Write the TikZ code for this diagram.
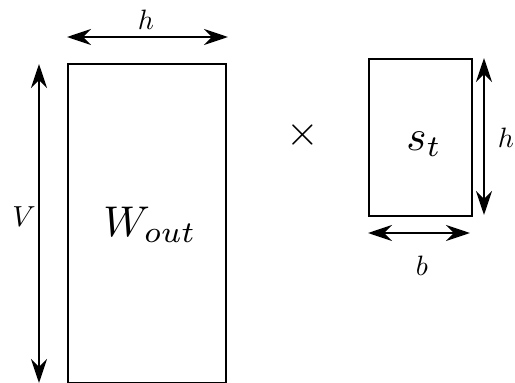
\documentclass[tikz,border=0pt]{standalone}
\usepackage{graphicx}
\usetikzlibrary{arrows.meta}
\begin{document}
\begin{tikzpicture}[x=1pt,y=-1pt,
  matbox/.style={draw=black,line width=1.8pt,inner sep=0pt,anchor=north west},
  dimarrow/.style={line width=2.6pt,{Stealth[length=24pt,width=16pt,inset=8pt]}-{Stealth[length=24pt,width=16pt,inset=8pt]}},
  lbl/.style={inner sep=0pt}]
\useasboundingbox (0,0) rectangle (515,383);
% matrices
\node[matbox,minimum width=158pt,minimum height=319pt] (W) at (67,63) {};
\node[matbox,minimum width=103pt,minimum height=157pt] (S) at (368,58) {};
\node[lbl] (Wl) at (150,225) {\scalebox{4.3}{$W_{out}$}};
\node[lbl] (Sl) at (424,144) {\scalebox{4.3}{$s_t$}};
\node[lbl] (X) at (303,135) {\scalebox{4.2}{$\times$}};
% dimension coordinates
\coordinate (ht1) at (67,37);
\coordinate (ht2) at (228,37);
\coordinate (v1) at (39,64);
\coordinate (v2) at (39,383);
\coordinate (hr1) at (484,58);
\coordinate (hr2) at (484,215);
\coordinate (b1) at (368,233);
\coordinate (b2) at (470,233);
\draw[dimarrow] (ht1) -- (ht2);
\draw[dimarrow] (v1) -- (v2);
\draw[dimarrow] (hr1) -- (hr2);
\draw[dimarrow] (b1) -- (b2);
% labels
\node[lbl] (hl) at (146,20) {\scalebox{2.8}{$h$}};
\node[lbl] (vl) at (24,217) {\scalebox{2.9}{$V$}};
\node[lbl] (hrl) at (506,138) {\scalebox{2.8}{$h$}};
\node[lbl] (bl) at (422,266) {\scalebox{2.8}{$b$}};
\end{tikzpicture}
\end{document}
